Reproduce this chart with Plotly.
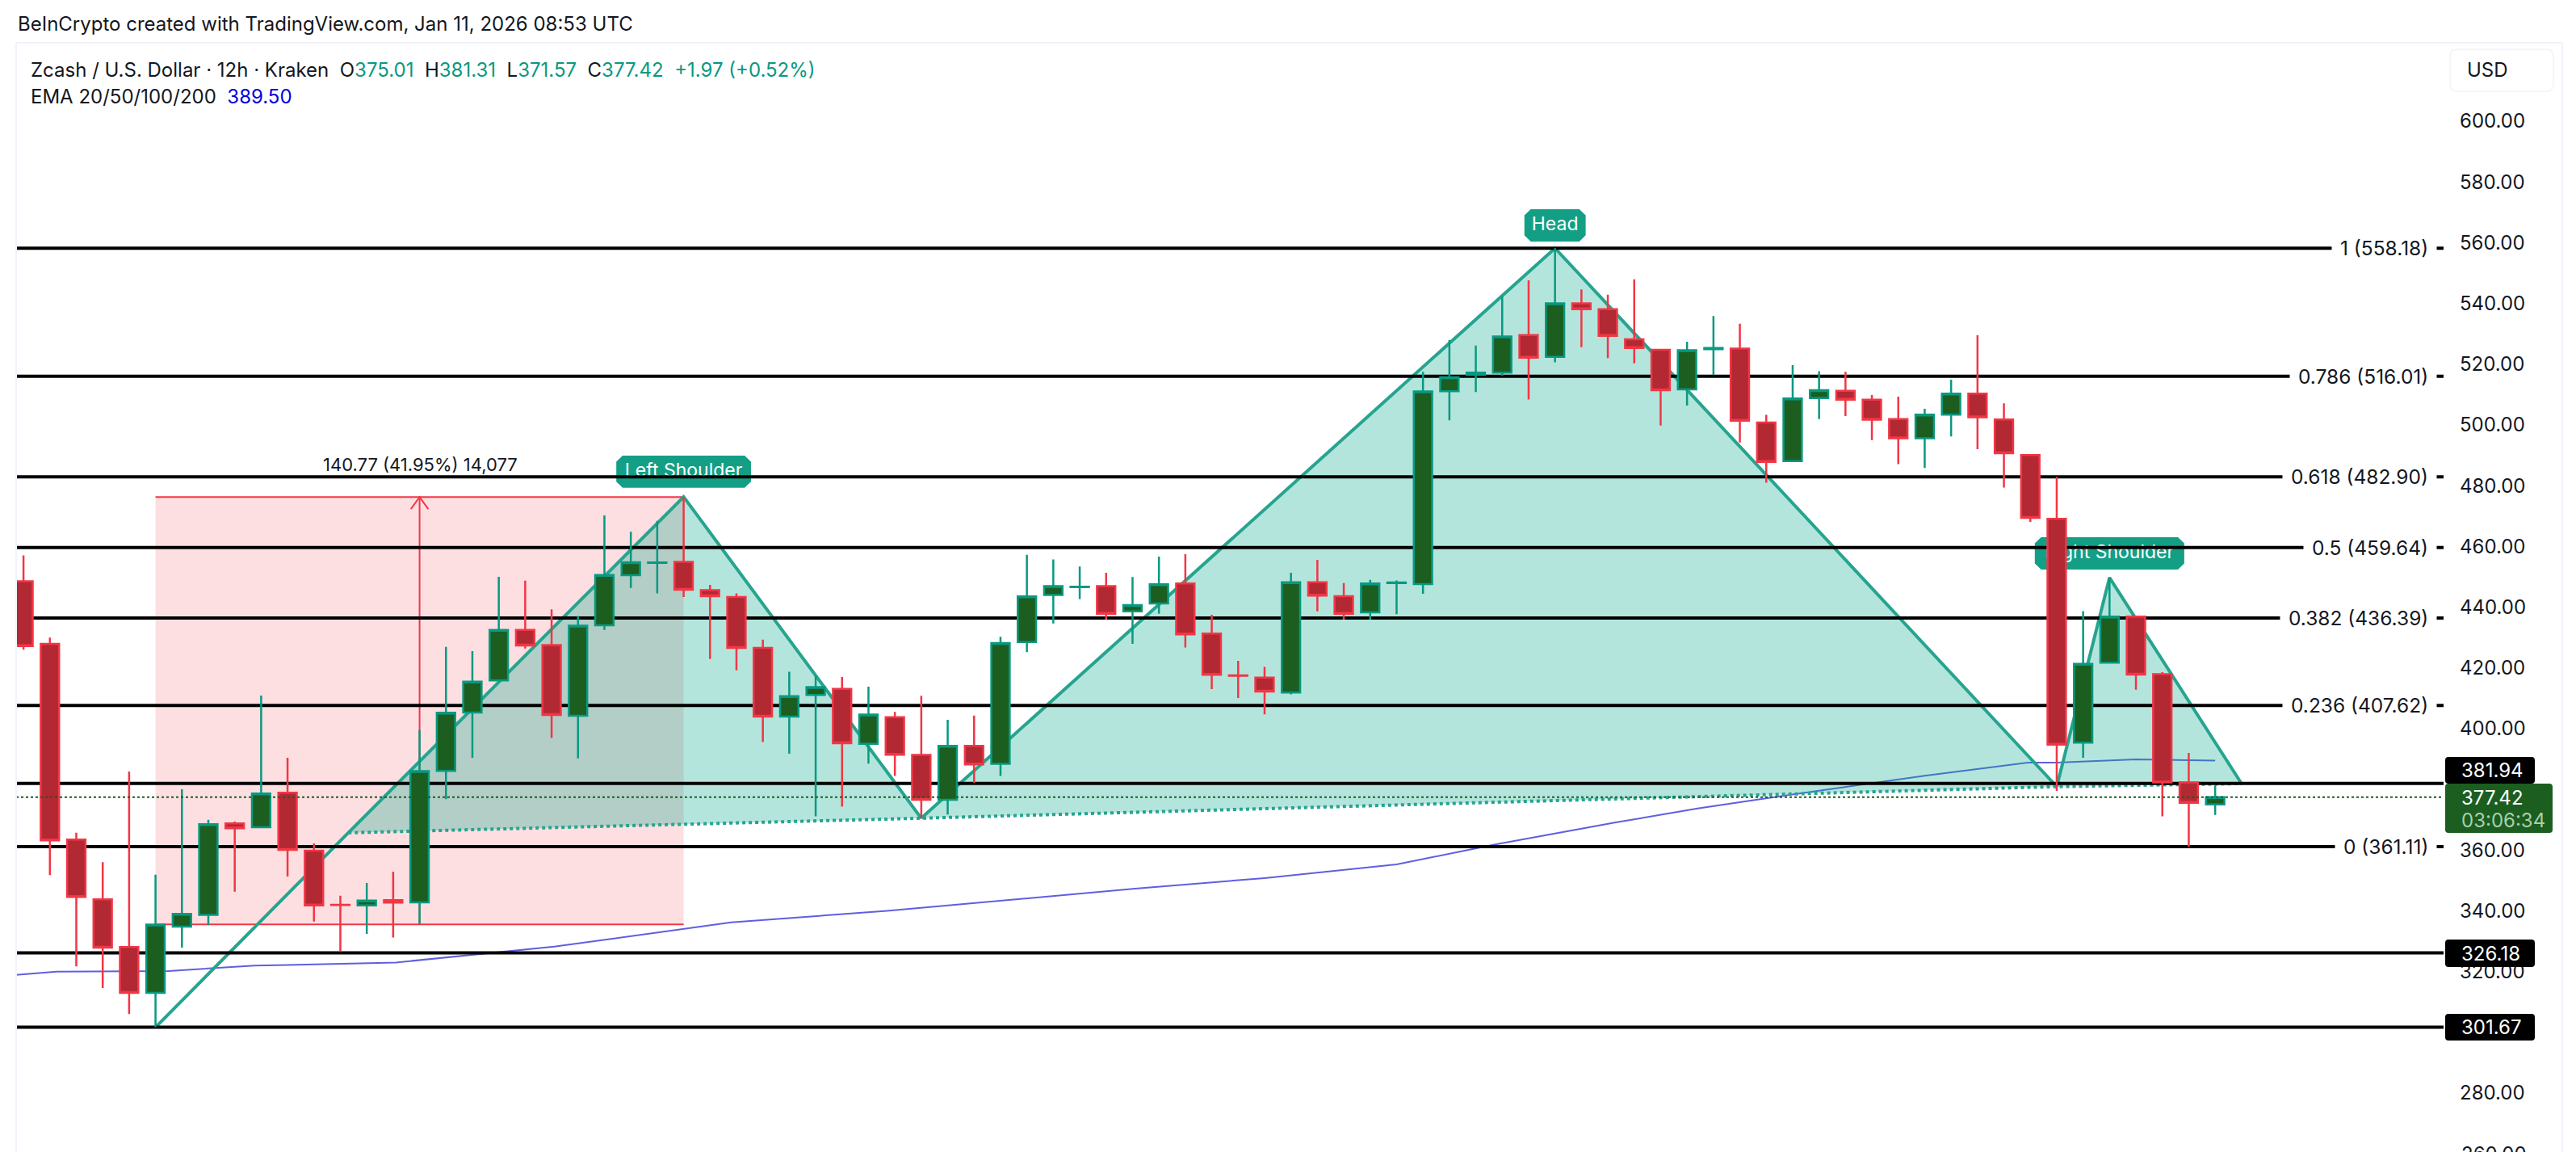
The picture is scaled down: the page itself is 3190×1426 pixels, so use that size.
import plotly.graph_objects as go

# candle data (12h candles, index 0 = leftmost)
opens = [448.5, 427.9, 363.5, 343.8, 328.1, 313.0, 334.8, 338.7, 368.8, 367.5, 378.9, 359.8, 342.0, 341.8, 343.5, 342.8, 386.1, 405.3, 415.9, 432.5, 427.5, 404.2, 434.0, 450.5, 454.6, 454.9, 445.6, 443.3, 426.6, 404.0, 411.1, 413.1, 395.0,
         403.8, 391.3, 376.6, 394.3, 388.4, 428.5, 444.0, 446.6, 446.9, 438.6, 441.2, 447.8, 431.3, 417.5, 416.8, 411.9, 448.2, 443.6, 438.3, 447.9, 447.6, 511.1, 516.5, 517.2, 529.6, 522.4, 540.0, 538.1, 528.2,
         524.7, 511.7, 524.9, 525.1, 500.8, 488.1, 508.8, 511.2, 508.3, 501.9, 495.6, 503.4, 510.3, 501.8, 490.1, 469.1, 395.4, 421.7, 436.9, 417.9, 382.3, 375.01]
highs = [457.0, 430.0, 365.7, 356.0, 385.9, 351.9, 380.0, 370.0, 369.4, 410.9, 390.4, 362.2, 345.0, 349.2, 352.9, 399.5, 426.9, 425.5, 450.0, 448.7, 439.3, 437.1, 470.2, 464.8, 468.4, 476.28, 447.3, 444.5, 429.3, 418.7, 417.3, 417.0, 413.8,
         405.5, 410.8, 402.9, 404.3, 430.2, 457.2, 455.7, 453.4, 451.3, 449.9, 456.6, 457.4, 437.5, 422.3, 420.3, 451.3, 455.6, 447.9, 449.0, 448.8, 517.5, 527.9, 526.1, 542.4, 547.6, 558.18, 544.6, 542.9, 547.9,
         524.9, 527.4, 535.8, 533.3, 503.3, 519.7, 517.7, 517.5, 509.8, 509.3, 505.3, 514.9, 529.5, 507.1, 490.1, 482.9, 438.7, 449.7, 436.9, 418.6, 392.0, 381.31]
lows = [426.0, 351.8, 321.7, 314.6, 306.0, 301.67, 327.9, 335.3, 346.3, 367.5, 351.3, 336.5, 326.7, 332.4, 331.2, 335.8, 376.8, 390.4, 415.9, 426.4, 396.9, 390.2, 432.5, 446.3, 444.5, 443.3, 422.9, 419.2, 395.6, 391.7, 371.1, 374.3, 388.5,
        384.4, 370.4, 371.7, 382.1, 384.4, 425.2, 434.6, 442.7, 435.9, 427.9, 437.8, 426.7, 413.0, 410.1, 404.7, 411.3, 438.6, 435.9, 435.9, 437.7, 444.4, 501.5, 510.8, 516.2, 508.4, 520.6, 525.6, 522.0, 520.3,
        499.8, 506.4, 516.4, 494.2, 481.0, 488.1, 501.9, 502.9, 495.0, 487.1, 485.8, 496.2, 492.0, 479.4, 468.1, 379.5, 390.4, 421.7, 412.8, 371.1, 361.11, 371.57]
closes = [427.2, 363.2, 344.6, 327.9, 313.0, 335.5, 339.0, 368.5, 367.2, 378.6, 360.1, 341.8, 341.9, 343.4, 342.7, 386.0, 405.2, 415.5, 432.5, 427.4, 404.5, 433.9, 450.6, 454.8, 454.7, 445.7, 443.6, 426.6, 404.0, 410.7, 413.7, 395.2, 404.6,
          391.4, 376.6, 394.3, 388.2, 428.2, 443.5, 446.9, 446.7, 437.8, 440.7, 447.5, 431.0, 417.7, 417.4, 412.2, 448.2, 443.8, 437.8, 447.8, 448.1, 511.0, 515.7, 517.2, 529.1, 522.1, 540.0, 538.1, 529.3, 525.3,
          511.4, 524.6, 525.3, 501.4, 487.8, 508.7, 511.4, 508.3, 501.7, 495.6, 503.4, 510.3, 502.5, 490.7, 469.4, 394.7, 421.3, 436.9, 417.8, 382.3, 375.6, 377.42]
candle_idx = list(range(len(closes)))

ema_x = [-0.28, 1.25, 5.5, 8.76, 10, 14.1, 20.1, 26.8, 32.7, 42.1, 47, 52, 55.7, 60.3, 63.4, 66.5, 72, 75.9, 77, 80, 83]
ema_y = [318.9, 320.0, 320.2, 322.0, 322.2, 323.0, 328.2, 336.2, 340.0, 347.3, 350.8, 355.3, 361.8, 369.1, 373.7, 377.7, 384.5, 388.8, 388.8, 389.9, 389.5]

fib_levels = [558.18, 516.01, 482.90, 459.64, 436.39, 407.62, 361.11]
fib_labels = ["1 (558.18)", "0.786 (516.01)", "0.618 (482.90)", "0.5 (459.64)", "0.382 (436.39)", "0.236 (407.62)", "0 (361.11)"]
extra_levels = [381.94, 326.18, 301.67]
last_price = 377.42

# head and shoulders points
left_x = [5, 12.3, 25, 34]
left_y = [301.67, 365.7, 476.28, 370.5]
head_x = [34, 58, 77]
head_y = [370.5, 558.18, 380.9]
right_x = [77, 79, 84]
right_y = [380.9, 449.7, 381.9]
neck_x = [12.3, 34, 77, 84]
neck_y = [365.7, 370.5, 380.9, 381.9]

pattern_labels = ["Left Shoulder", "Head", "Right Shoulder"]
label_x = [25, 58, 79]
label_y = [484.6, 565.7, 457.7]
label_halfw = [2.55, 1.16, 2.83]

# price range tool
rng_x = [5, 25]
rng_y = [335.51, 476.28]
rng_arrow_x = 15

tick_vals = [600, 580, 560, 540, 520, 500, 480, 460, 440, 420, 400, 360, 340, 320, 280]
tick_text = ["%.2f" % v for v in tick_vals]

GREEN_LINE = "#089981"
GREEN_FILL = "#1b5e20"
RED_LINE = "#f23645"
RED_FILL = "#b22833"
TEAL = "#26a48f"
TEXT = "#131722"
FONT = "Inter"

W, H = 3190, 1426
L, R, T = 20, 3026, 53
x_range = [-0.278, 91.65]
y_range = [260.6, 625.8]


def px(x):
    return (x - L) / (R - L)


def py(y):
    return (H - y) / (H - T)


def round_box(x0, y0, x1, y1, r):
    # rounded rectangle as svg path in paper coords, args in pixels
    pts = [("M", x0 + r, y0), ("L", x1 - r, y0), ("Q", x1, y0, x1, y0 + r), ("L", x1, y1 - r), ("Q", x1, y1, x1 - r, y1),
           ("L", x0 + r, y1), ("Q", x0, y1, x0, y1 - r), ("L", x0, y0 + r), ("Q", x0, y0, x0 + r, y0)]
    out = ""
    for p in pts:
        out += p[0]
        for i in range(1, len(p), 2):
            out += " %.5f,%.5f " % (px(p[i]), py(p[i + 1]))
    return out + "Z"


def label_outline(cx, cy, hw):
    # outline of a pattern label in data units
    hh = 5.3
    cw = 0.24
    ch = 2.0
    xs = [cx - hw + cw, cx + hw - cw, cx + hw, cx + hw, cx + hw - cw, cx - hw + cw, cx - hw, cx - hw, cx - hw + cw]
    ys = [cy + hh, cy + hh, cy + hh - ch, cy - hh + ch, cy - hh, cy - hh, cy - hh + ch, cy + hh - ch, cy + hh]
    return xs, ys


def line(xs, ys, color, width, dash="solid"):
    return go.Scatter(x=xs, y=ys, mode="lines", line=dict(color=color, width=width, dash=dash), hoverinfo="skip", showlegend=False)


def poly(xs, ys, color):
    return go.Scatter(x=xs, y=ys, mode="lines", fill="toself", fillcolor=color, line=dict(width=0), hoverinfo="skip", showlegend=False)


fig = go.Figure()

# everything behind the candles goes on the first axes
fig.add_trace(line(ema_x, ema_y, "#5f5fe0", 2))
fig.add_trace(poly([rng_x[0], rng_x[1], rng_x[1], rng_x[0]], [rng_y[0], rng_y[0], rng_y[1], rng_y[1]], "rgba(242,54,69,0.16)"))
fig.add_trace(line(rng_x, [rng_y[1], rng_y[1]], RED_LINE, 2))
fig.add_trace(line(rng_x, [rng_y[0], rng_y[0]], RED_LINE, 2))
fig.add_trace(line([rng_arrow_x, rng_arrow_x], rng_y, RED_LINE, 2))
fig.add_trace(line([rng_arrow_x - 0.33, rng_arrow_x, rng_arrow_x + 0.33], [rng_y[1] - 4, rng_y[1], rng_y[1] - 4], RED_LINE, 2))

fig.add_trace(poly(left_x[1:], left_y[1:], "rgba(8,170,140,0.3)"))
fig.add_trace(poly(head_x, head_y, "rgba(8,170,140,0.3)"))
fig.add_trace(poly(right_x, right_y, "rgba(8,170,140,0.3)"))
fig.add_trace(line(left_x, left_y, TEAL, 4))
fig.add_trace(line(head_x, head_y, TEAL, 4))
fig.add_trace(line(right_x, right_y, TEAL, 4))
fig.add_trace(line(neck_x, neck_y, TEAL, 4, "dot"))

for i in range(len(pattern_labels)):
    xs, ys = label_outline(label_x[i], label_y[i], label_halfw[i])
    fig.add_trace(poly(xs, ys, "#139f85"))
    fig.add_trace(go.Scatter(x=[label_x[i]], y=[label_y[i]], mode="text", text=[pattern_labels[i]],
                             textfont=dict(family=FONT, size=23, color="white"), hoverinfo="skip", showlegend=False))

for lv in fib_levels + extra_levels:
    fig.add_trace(line(x_range, [lv, lv], "black", 4))

# candles on the overlaid axes so they sit on top
fig.add_trace(go.Candlestick(x=candle_idx, open=opens, high=highs, low=lows, close=closes, xaxis="x2", yaxis="y2",
                             whiskerwidth=0, showlegend=False, hoverinfo="skip",
                             increasing=dict(line=dict(color=GREEN_LINE, width=2.5), fillcolor=GREEN_FILL),
                             decreasing=dict(line=dict(color=RED_LINE, width=2.5), fillcolor=RED_FILL)))
last_line = line(x_range, [last_price, last_price], GREEN_FILL, 2, "dot")
last_line.update(xaxis="x2", yaxis="y2")
fig.add_trace(last_line)

shapes = [
    dict(type="line", xref="paper", yref="paper", x0=0, x1=px(3173), y0=py(53), y1=py(53), line=dict(color="#f0f3fa", width=2)),
    dict(type="line", xref="paper", yref="paper", x0=0, x1=0, y0=py(53), y1=py(1426), line=dict(color="#f0f3fa", width=2)),
    dict(type="line", xref="paper", yref="paper", x0=px(3173), x1=px(3173), y0=py(53), y1=py(1426), line=dict(color="#f0f3fa", width=2)),
    dict(type="path", xref="paper", yref="paper", path=round_box(3034, 61, 3162, 113, 9), line=dict(color="#f0f3fa", width=1.5), fillcolor="white"),
    dict(type="path", xref="paper", yref="paper", path=round_box(3028, 937, 3139, 970, 4), line=dict(width=0), fillcolor="black"),
    dict(type="path", xref="paper", yref="paper", path=round_box(3028, 970, 3161, 1031, 4), line=dict(width=0), fillcolor=GREEN_FILL),
    dict(type="path", xref="paper", yref="paper", path=round_box(3028, 1163, 3139, 1197, 4), line=dict(width=0), fillcolor="black"),
    dict(type="path", xref="paper", yref="paper", path=round_box(3028, 1255, 3139, 1288, 4), line=dict(width=0), fillcolor="black"),
]


def note(x, y, text, size=24, color=TEXT, anchor="left", **kw):
    return dict(xref="paper", yref="paper", x=px(x), y=py(y), text=text, showarrow=False, xanchor=anchor, yanchor="middle",
                font=dict(family=FONT, size=size, color=color), **kw)


def g(s):
    return '<span style="color:%s">%s</span>' % (GREEN_LINE, s)


annotations = [
    note(20, 30, "BeInCrypto created with TradingView.com, Jan 11, 2026 08:53 UTC"),
    note(36, 86, "Zcash / U.S. Dollar · 12h · Kraken  O" + g("375.01") + "  H" + g("381.31") + "  L" + g("371.57") + "  C" + g("377.42") + "  " + g("+1.97 (+0.52%)")),
    note(36, 120, 'EMA 20/50/100/200  <span style="color:#0000e0">389.50</span>'),
    note(520, 575, "140.77 (41.95%) 14,077", size=22, anchor="center"),
    note(3053, 87, "USD", size=24),
    note(3046, 1428, "260.00", size=24),
    note(3046, 953, "381.94", color="white"),
    note(3046, 987, "377.42", color="white"),
    note(3046, 1016, "03:06:34", color="#a9cfae"),
    note(3046, 1180, "326.18", color="white"),
    note(3046, 1271.7, "301.67", color="white"),
]
for lv, txt in zip(fib_levels, fib_labels):
    annotations.append(dict(xref="paper", yref="y", x=px(3018), y=lv, text=txt, showarrow=False, xanchor="right", yanchor="middle",
                            bgcolor="white", borderpad=10, font=dict(family=FONT, size=24.5, color=TEXT)))

fig.update_layout(
    width=W, height=H,
    margin=dict(l=L, r=W - R, t=T, b=0),
    paper_bgcolor="white", plot_bgcolor="white",
    showlegend=False, boxgap=0.15, boxgroupgap=0.18,
    shapes=shapes, annotations=annotations,
    xaxis=dict(range=x_range, visible=False),
    yaxis=dict(range=y_range, side="right", showgrid=False, zeroline=False, showline=False, ticks="",
               tickvals=tick_vals, ticktext=tick_text, ticklabelstandoff=19,
               tickfont=dict(family=FONT, size=24, color=TEXT)),
    xaxis2=dict(range=x_range, overlaying="x", anchor="y2", visible=False, rangeslider=dict(visible=False)),
    yaxis2=dict(range=y_range, overlaying="y", anchor="x2", visible=False),
)

fig.write_html("out.html", config=dict(displayModeBar=False), post_script="document.body.style.margin='0';document.body.style.overflow='hidden';")
